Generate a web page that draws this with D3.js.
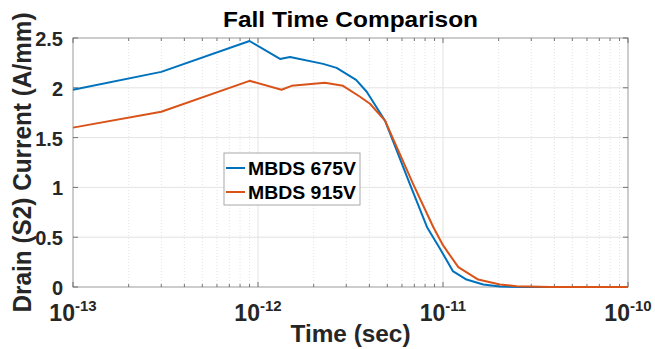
<!DOCTYPE html>
<html>
<head>
<meta charset="utf-8">
<script src="https://cdn.jsdelivr.net/npm/d3@7"></script>
<style>
  body { margin: 0; background: #fff; }
  svg { display: block; font-family: "Liberation Sans", Arial, sans-serif; font-weight: bold; }
</style>
</head>
<body>
<div id="chart"></div>
<script>
// Fall time data (time in seconds, current in A/mm)
const time675 = [1e-13, 3e-13, 9e-13, 1.315e-12, 1.49e-12, 2.25e-12, 2.66e-12, 3.39e-12, 3.87e-12,
  4.86e-12, 6.63e-12, 8.2e-12, 9.6e-12, 1.13e-11, 1.34e-11, 1.65e-11, 2.03e-11, 2.6e-11, 1e-10];
const current675 = [1.98, 2.16, 2.47, 2.29, 2.31, 2.24, 2.20, 2.08, 1.96,
  1.67, 1.03, 0.6, 0.39, 0.16, 0.075, 0.025, 0.005, 0.0, 0.0];

const time915 = [1e-13, 3e-13, 9e-13, 1.34e-12, 1.52e-12, 2.3e-12, 2.88e-12, 3.56e-12, 4.03e-12,
  4.86e-12, 6.91e-12, 8.87e-12, 1.0e-11, 1.07e-11, 1.21e-11, 1.55e-11, 2.03e-11, 2.5e-11, 3.8e-11, 1e-10];
const current915 = [1.60, 1.76, 2.07, 1.98, 2.02, 2.05, 2.02, 1.91, 1.84,
  1.67, 1.03, 0.60, 0.42, 0.34, 0.20, 0.075, 0.025, 0.008, 0.0, 0.0];

const seriesNames = ["MBDS 675V", "MBDS 915V"];
const seriesColors = ["#0072BD", "#D95319"];
const yTicks = [0, 0.5, 1, 1.5, 2, 2.5];
const xTickExps = [-13, -12, -11, -10];

const width = 655, height = 349;
const margin = { top: 38, right: 27, bottom: 70, left: 73 };

const svg = d3.select("#chart").append("svg")
  .attr("width", width)
  .attr("height", height);

const x = d3.scaleLog()
  .domain([1e-13, 1e-10])
  .range([margin.left, width - margin.right]);

const y = d3.scaleLinear()
  .domain([0, 2.5])
  .range([height - margin.bottom + 8, margin.top]);

const x0 = x.range()[0], x1 = x.range()[1];
const y0 = y.range()[0], y1 = y.range()[1];

// minor grid (2..9 of each decade)
const minorTicks = [];
xTickExps.slice(0, -1).forEach(e => {
  for (let k = 2; k <= 9; k++) minorTicks.push(k * Math.pow(10, e));
});

svg.append("g")
  .selectAll("line")
  .data(minorTicks)
  .join("line")
  .attr("x1", d => x(d)).attr("x2", d => x(d))
  .attr("y1", y0).attr("y2", y1)
  .attr("stroke", "#dcdcdc")
  .attr("stroke-width", 0.8)
  .attr("stroke-dasharray", "1,2");

// major grid
svg.append("g")
  .selectAll("line")
  .data(xTickExps)
  .join("line")
  .attr("x1", d => x(Math.pow(10, d))).attr("x2", d => x(Math.pow(10, d)))
  .attr("y1", y0).attr("y2", y1)
  .attr("stroke", "#e3e3e3")
  .attr("stroke-width", 1);

svg.append("g")
  .selectAll("line")
  .data(yTicks)
  .join("line")
  .attr("x1", x0).attr("x2", x1)
  .attr("y1", d => y(d)).attr("y2", d => y(d))
  .attr("stroke", "#e3e3e3")
  .attr("stroke-width", 1);

// axes box
svg.append("rect")
  .attr("x", x0).attr("y", y1)
  .attr("width", x1 - x0).attr("height", y0 - y1)
  .attr("fill", "none")
  .attr("stroke", "#a8a8a8")
  .attr("stroke-width", 1);

// ticks (inside, both sides)
const tickG = svg.append("g").attr("stroke", "#555").attr("stroke-width", 0.8);
xTickExps.forEach(e => {
  const px = x(Math.pow(10, e));
  tickG.append("line").attr("x1", px).attr("x2", px).attr("y1", y0).attr("y2", y0 - 5);
  tickG.append("line").attr("x1", px).attr("x2", px).attr("y1", y1).attr("y2", y1 + 5);
});
minorTicks.forEach(t => {
  const px = x(t);
  tickG.append("line").attr("x1", px).attr("x2", px).attr("y1", y0).attr("y2", y0 - 3);
  tickG.append("line").attr("x1", px).attr("x2", px).attr("y1", y1).attr("y2", y1 + 3);
});
yTicks.forEach(v => {
  tickG.append("line").attr("x1", x0).attr("x2", x0 + 5).attr("y1", y(v)).attr("y2", y(v));
  tickG.append("line").attr("x1", x1).attr("x2", x1 - 5).attr("y1", y(v)).attr("y2", y(v));
});

// y tick labels
svg.append("g")
  .selectAll("text")
  .data(yTicks)
  .join("text")
  .attr("x", x0 - 10)
  .attr("y", d => y(d) + 8)
  .attr("text-anchor", "end")
  .attr("font-size", 20)
  .attr("fill", "#262626")
  .text(d => d3.format("~g")(d));

// x tick labels 10^e
const xLab = svg.append("g")
  .selectAll("text")
  .data(xTickExps)
  .join("text")
  .attr("x", d => x(Math.pow(10, d)))
  .attr("y", y0 + 34)
  .attr("text-anchor", "middle")
  .attr("fill", "#262626");
xLab.append("tspan").attr("font-size", 23).text("10");
xLab.append("tspan").attr("font-size", 15).attr("dy", -10).text(d => d);

// lines
const lineGen = d3.line().x(d => x(d[0])).y(d => y(d[1]));
const series = [
  d3.zip(time675, current675),
  d3.zip(time915, current915)
];
svg.append("g")
  .selectAll("path")
  .data(series)
  .join("path")
  .attr("d", lineGen)
  .attr("fill", "none")
  .attr("stroke", (d, i) => seriesColors[i])
  .attr("stroke-width", 2)
  .attr("stroke-linejoin", "round");

// title and axis labels
svg.append("text")
  .attr("x", (x0 + x1) / 2)
  .attr("y", 27)
  .attr("text-anchor", "middle")
  .attr("font-size", 22)
  .attr("textLength", 255)
  .attr("lengthAdjust", "spacingAndGlyphs")
  .attr("fill", "#000")
  .text("Fall Time Comparison");

svg.append("text")
  .attr("x", (x0 + x1) / 2)
  .attr("y", 342)
  .attr("text-anchor", "middle")
  .attr("font-size", 24)
  .attr("textLength", 120)
  .attr("lengthAdjust", "spacingAndGlyphs")
  .attr("fill", "#262626")
  .text("Time (sec)");

svg.append("text")
  .attr("transform", `translate(31, ${(y0 + y1) / 2}) rotate(-90)`)
  .attr("text-anchor", "middle")
  .attr("font-size", 25)
  .attr("textLength", 300)
  .attr("lengthAdjust", "spacingAndGlyphs")
  .attr("fill", "#262626")
  .text("Drain (S2) Current (A/mm)");

// legend
const legend = svg.append("g").attr("transform", "translate(224, 153)");
legend.append("rect")
  .attr("width", 136).attr("height", 52)
  .attr("fill", "#fff")
  .attr("stroke", "#a8a8a8")
  .attr("stroke-width", 1);
seriesNames.forEach((name, i) => {
  const cy = 15 + i * 24;
  legend.append("line")
    .attr("x1", 2).attr("x2", 21)
    .attr("y1", cy).attr("y2", cy)
    .attr("stroke", seriesColors[i])
    .attr("stroke-width", 2);
  legend.append("text")
    .attr("x", 24).attr("y", cy + 6.5)
    .attr("font-size", 17.5)
    .attr("textLength", 108)
    .attr("lengthAdjust", "spacingAndGlyphs")
    .attr("fill", "#000")
    .text(name);
});
</script>
</body>
</html>
